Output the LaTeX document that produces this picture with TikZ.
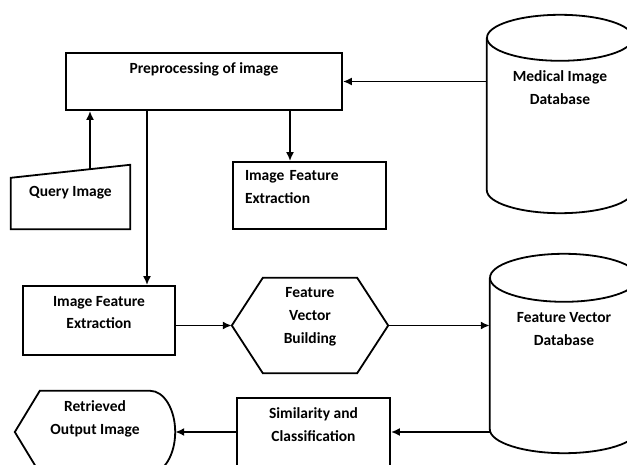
\documentclass[tikz,border=0pt]{standalone}
\usepackage{fontspec}
\setmainfont{Carlito}
\usetikzlibrary{positioning, calc, arrows.meta}

\begin{document}
\begin{tikzpicture}[
		x=1pt, y=-1pt,
		every node/.style={font=\bfseries\fontsize{15.5}{23}\selectfont, align=center, inner sep=0pt},
		box/.style={rectangle, draw, line width=1.8pt},
		ghost/.style={rectangle, draw=none},
		tdp/.style 2 args={text height=#1, text depth=#2},
		outl/.style={line width=1.8pt},
		conn/.style={line width=1.8pt, -{Latex[length=9pt, width=8pt]}},
	]

	\useasboundingbox (0,0) rectangle (627,465);
	\clip (0,0) rectangle (627,465);

	\node[box, minimum width=276pt, minimum height=57pt, tdp={11pt}{26pt}] (prep) at (204,81.5) {Preprocessing of image};
	\node[ghost, minimum width=119pt, minimum height=64pt, tdp={11pt}{11pt}] (qimg) at (70.5,197) {Query Image};
	\node[box, minimum width=153pt, minimum height=67pt, tdp={11pt}{40pt}, align=left, text width=129pt] (ife1) at (309.5,195.5) {Image Feature\\Extraction};
	\node[box, minimum width=152pt, minimum height=69pt, tdp={21pt}{4pt}] (ife2) at (99,320.5) {Image Feature\\Extraction};
	\node[ghost, minimum width=156pt, minimum height=95pt, tdp={39pt}{4pt}] (fvb) at (310,325.5) {Feature\\Vector\\Building};
	\node[box, minimum width=153pt, minimum height=68pt, tdp={22pt}{4pt}] (sim) at (313.5,432) {Similarity and\\Classification};
	\node[ghost, minimum width=160pt, minimum height=82pt, tdp={8pt}{4pt}] (disp) at (95,432) {Retrieved\\Output Image};
	\node[ghost, minimum width=146pt, minimum height=152pt, tdp={11pt}{29pt}] (meddb) at (560,114) {Medical Image\\Database};
	\node[ghost, minimum width=148pt, minimum height=151pt, tdp={11pt}{28pt}] (fvdb) at (564,353.5) {Feature Vector\\Database};

	% outlines of the drawn shapes
	\draw[outl] (qimg.south west) -- (qimg.south east) -- (qimg.north east) -- ([yshift=-13pt]qimg.north west) -- cycle;
	\draw[outl] (fvb.west) -- ([xshift=31pt]fvb.north west) -- ([xshift=-31pt]fvb.north east) -- (fvb.east)
		-- ([xshift=-31pt]fvb.south east) -- ([xshift=31pt]fvb.south west) -- cycle;
	\draw[outl] (disp.west) -- ([xshift=25pt]disp.north west) -- ([xshift=-25pt]disp.north east)
		.. controls +(13.8,0) and +(0,-22.6) .. (disp.east)
		.. controls +(0,22.6) and +(13.8,0) .. ([xshift=-25pt]disp.south east)
		-- ([xshift=25pt]disp.south west) -- cycle;

	\foreach \n/\rx/\ry in {meddb/73/23, fvdb/74/24} {
		\draw[outl] (\n.north) ellipse [x radius=\rx pt, y radius=\ry pt];
		\draw[outl] (\n.north west) -- (\n.south west)
			.. controls +(0,0.5523*\ry) and +(-0.5523*\rx,0) .. ($(\n.south)+(0,\ry)$)
			.. controls +(0.5523*\rx,0) and +(0,0.5523*\ry) .. (\n.south east) -- (\n.north east);
	}

	\coordinate (qtop) at (90,169);
	\coordinate (p1) at ([xshift=-57pt]prep.south);
	\coordinate (p2) at ([xshift=86pt]prep.south);

	\foreach \i/\j in {qtop/qtop |- prep.south, p1/p1 |- ife2.north, p2/p2 |- ife1.north}
		\draw[conn] (\i) -- (\j);

	\foreach \i/\j in {prep.east -| meddb.west/prep.east, fvb.west -| ife2.east/fvb.west,
		fvb.east/fvb.east -| fvdb.west, sim.east -| fvdb.west/sim.east, sim.west/disp.east}
		\draw[conn] (\i) -- (\j);

\end{tikzpicture}
\end{document}
